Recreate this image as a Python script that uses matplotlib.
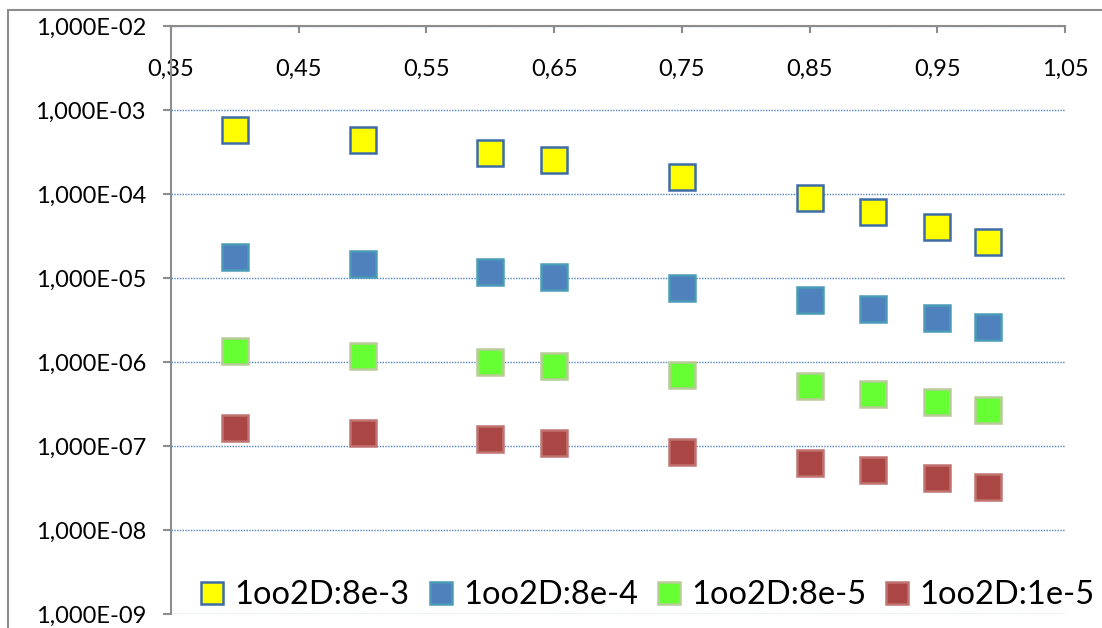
import matplotlib
matplotlib.use("Agg")
import matplotlib.pyplot as plt
from matplotlib.ticker import FuncFormatter, FixedLocator, NullLocator
from matplotlib.patches import Rectangle

x = [0.40, 0.50, 0.60, 0.65, 0.75, 0.85, 0.90, 0.95, 0.99]
s_8e3 = [5.88e-4, 4.39e-4, 3.10e-4, 2.58e-4, 1.61e-4, 9.0e-5, 6.21e-5, 4.06e-5, 2.70e-5]
s_8e4 = [1.79e-5, 1.48e-5, 1.19e-5, 1.035e-5, 7.67e-6, 5.52e-6, 4.31e-6, 3.37e-6, 2.63e-6]
s_8e5 = [1.36e-6, 1.19e-6, 1.01e-6, 9.04e-7, 7.06e-7, 5.23e-7, 4.2e-7, 3.37e-7, 2.70e-7]
s_1e5 = [1.65e-7, 1.44e-7, 1.22e-7, 1.09e-7, 8.55e-8, 6.32e-8, 5.21e-8, 4.18e-8, 3.27e-8]
labels = ["1oo2D:8e-3", "1oo2D:8e-4", "1oo2D:8e-5", "1oo2D:1e-5"]
x_ticks = [0.35, 0.45, 0.55, 0.65, 0.75, 0.85, 0.95, 1.05]
y_ticks = [1e-9, 1e-8, 1e-7, 1e-6, 1e-5, 1e-4, 1e-3, 1e-2]

faces = ["#FFFF00", "#4F81BD", "#66FF33", "#AA4643"]
edges = ["#3F6CA8", "#4A9BB8", "#B8CC98", "#C07370"]

plt.rcParams['font.family'] = ['Lato', 'DejaVu Sans']

W, H = 1102, 628
fig = plt.figure(figsize=(W / 100, H / 100), dpi=100)
L, R, T, B = 171, 1065, 26.3, 614.3
ax = fig.add_axes([L / W, 1 - B / H, (R - L) / W, (B - T) / H])

fig.patches.append(Rectangle((8 / W, -0.1), 1.2, 1 - 10 / H + 0.1, transform=fig.transFigure,
                             fill=False, edgecolor="#8C8C8C", linewidth=1.5))

for ys, fc, ec, lab in zip([s_8e3, s_8e4, s_8e5, s_1e5], faces, edges, labels):
    ax.plot(x, ys, linestyle="none", marker="s", markersize=19, markerfacecolor=fc,
            markeredgecolor=ec, markeredgewidth=1.8, label=lab, zorder=3)

ax.set_yscale("log")
ax.set_ylim(1e-9, 1e-2)
ax.set_xlim(0.35, 1.05)

ax.yaxis.set_major_locator(FixedLocator(y_ticks))
ax.yaxis.set_minor_locator(NullLocator())
ax.yaxis.set_major_formatter(FuncFormatter(lambda v, p: ("%.3E" % v).replace(".", ",")))
ax.xaxis.set_major_locator(FixedLocator(x_ticks))
ax.xaxis.set_major_formatter(FuncFormatter(lambda v, p: ("%.2f" % v).replace(".", ",")))

ax.xaxis.tick_top()
ax.tick_params(axis="x", which="major", direction="in", length=5, width=1.5, color="#8C8C8C",
               pad=-31, labelsize=17)
ax.tick_params(axis="y", which="major", direction="out", length=6, width=1.5, color="#8C8C8C",
               pad=12, labelsize=17)
for lbl in ax.get_xticklabels():
    lbl.set_verticalalignment("center")

for sp in ["right", "bottom"]:
    ax.spines[sp].set_visible(False)
for sp in ["left", "top"]:
    ax.spines[sp].set_color("#8C8C8C")
    ax.spines[sp].set_linewidth(1.5)

ax.grid(axis="y", which="major", color="#4F81BD", linestyle=(0, (1, 1)), linewidth=1.0)
ax.set_axisbelow(True)

leg = fig.legend(loc="lower left", bbox_to_anchor=(201 / W, 18 / H), ncol=4, frameon=False,
                 fontsize=23.5, handlelength=0.7, handletextpad=0.33, columnspacing=0.6,
                 markerscale=0.85, borderpad=0.0, borderaxespad=0.0)

fig.savefig("out.png", dpi=100)
